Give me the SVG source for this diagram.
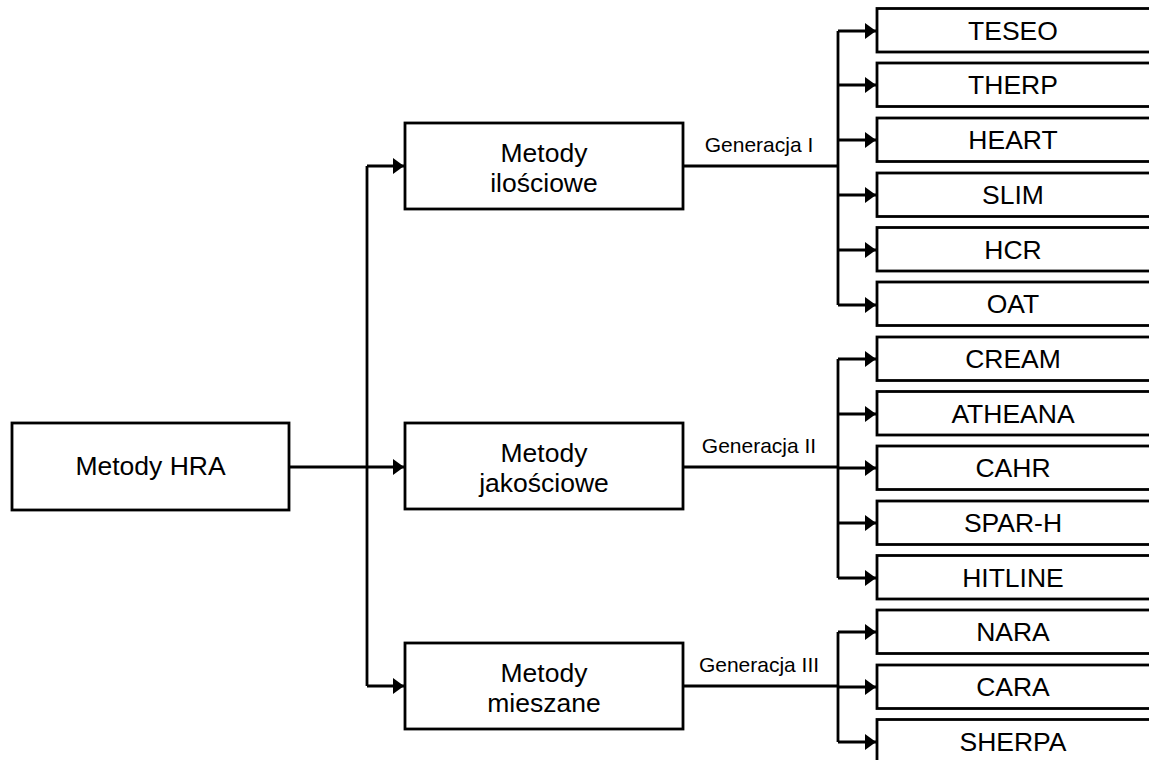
<svg xmlns="http://www.w3.org/2000/svg" width="1149" height="760" viewBox="0 0 1149 760">
<style>
.box{fill:#fff;stroke:#000;stroke-width:2.8}
.t{font-family:"Liberation Sans",Arial,sans-serif;font-size:26.5px;fill:#000;text-anchor:middle}
.g{font-family:"Liberation Sans",Arial,sans-serif;font-size:21px;fill:#000;text-anchor:middle}
.c{fill:none;stroke:#000;stroke-width:2.8}
</style>
<defs>
<marker id="arr" markerUnits="userSpaceOnUse" markerWidth="12" markerHeight="16" refX="11" refY="8" orient="auto">
<path d="M0,0 L11,8 L0,16 Z" fill="#000"/>
</marker>
</defs>
<rect width="1149" height="760" fill="#fff"/>
<g id="connectors">
<path class="c" d="M289,467 H404" marker-end="url(#arr)"/>
<path class="c" d="M367,166 V686"/>
<path class="c" d="M367,166 H404" marker-end="url(#arr)"/>
<path class="c" d="M367,686 H404" marker-end="url(#arr)"/>
<path class="c" d="M683,166 H838"/>
<path class="c" d="M838,31 V305"/>
<path class="c" d="M838,31 H876" marker-end="url(#arr)"/>
<path class="c" d="M838,85 H876" marker-end="url(#arr)"/>
<path class="c" d="M838,140 H876" marker-end="url(#arr)"/>
<path class="c" d="M838,195 H876" marker-end="url(#arr)"/>
<path class="c" d="M838,250 H876" marker-end="url(#arr)"/>
<path class="c" d="M838,305 H876" marker-end="url(#arr)"/>
<path class="c" d="M683,467 H838"/>
<path class="c" d="M838,359 V578"/>
<path class="c" d="M838,359 H876" marker-end="url(#arr)"/>
<path class="c" d="M838,414 H876" marker-end="url(#arr)"/>
<path class="c" d="M838,468 H876" marker-end="url(#arr)"/>
<path class="c" d="M838,523 H876" marker-end="url(#arr)"/>
<path class="c" d="M838,578 H876" marker-end="url(#arr)"/>
<path class="c" d="M683,686 H838"/>
<path class="c" d="M838,632 V742"/>
<path class="c" d="M838,632 H876" marker-end="url(#arr)"/>
<path class="c" d="M838,687 H876" marker-end="url(#arr)"/>
<path class="c" d="M838,742 H876" marker-end="url(#arr)"/>
<text class="g" x="759" y="152">Generacja I</text>
<text class="g" x="759" y="453">Generacja II</text>
<text class="g" x="759" y="672">Generacja III</text>
</g>
<g id="hra"><rect class="box" x="12" y="423" width="277" height="87"/><text class="t" x="150.5" y="475">Metody HRA</text></g>
<g id="ilosciowe"><rect class="box" x="405" y="123" width="278" height="86"/><text class="t" x="544" y="162">Metody</text><text class="t" x="544" y="192">ilościowe</text></g>
<g id="jakosciowe"><rect class="box" x="405" y="423" width="278" height="86"/><text class="t" x="544" y="462">Metody</text><text class="t" x="544" y="492">jakościowe</text></g>
<g id="mieszane"><rect class="box" x="405" y="643" width="278" height="86"/><text class="t" x="544" y="682">Metody</text><text class="t" x="544" y="712">mieszane</text></g>
<g id="teseo"><rect class="box" x="877" y="8.5" width="276" height="43.5"/><text class="t" x="1013" y="39.5">TESEO</text></g>
<g id="therp"><rect class="box" x="877" y="63" width="276" height="43.5"/><text class="t" x="1013" y="94">THERP</text></g>
<g id="heart"><rect class="box" x="877" y="118" width="276" height="43.5"/><text class="t" x="1013" y="149">HEART</text></g>
<g id="slim"><rect class="box" x="877" y="173" width="276" height="43.5"/><text class="t" x="1013" y="204">SLIM</text></g>
<g id="hcr"><rect class="box" x="877" y="227.5" width="276" height="43.5"/><text class="t" x="1013" y="258.5">HCR</text></g>
<g id="oat"><rect class="box" x="877" y="282" width="276" height="43.5"/><text class="t" x="1013" y="313">OAT</text></g>
<g id="cream"><rect class="box" x="877" y="337" width="276" height="43.5"/><text class="t" x="1013" y="368">CREAM</text></g>
<g id="atheana"><rect class="box" x="877" y="391.5" width="276" height="43.5"/><text class="t" x="1013" y="422.5">ATHEANA</text></g>
<g id="cahr"><rect class="box" x="877" y="446" width="276" height="43.5"/><text class="t" x="1013" y="477">CAHR</text></g>
<g id="sparh"><rect class="box" x="877" y="501" width="276" height="43.5"/><text class="t" x="1013" y="532">SPAR-H</text></g>
<g id="hitline"><rect class="box" x="877" y="555.5" width="276" height="43.5"/><text class="t" x="1013" y="586.5">HITLINE</text></g>
<g id="nara"><rect class="box" x="877" y="610" width="276" height="43.5"/><text class="t" x="1013" y="641">NARA</text></g>
<g id="cara"><rect class="box" x="877" y="665" width="276" height="43.5"/><text class="t" x="1013" y="696">CARA</text></g>
<g id="sherpa"><rect class="box" x="877" y="719.5" width="276" height="43.5"/><text class="t" x="1013" y="750.5">SHERPA</text></g>
</svg>
